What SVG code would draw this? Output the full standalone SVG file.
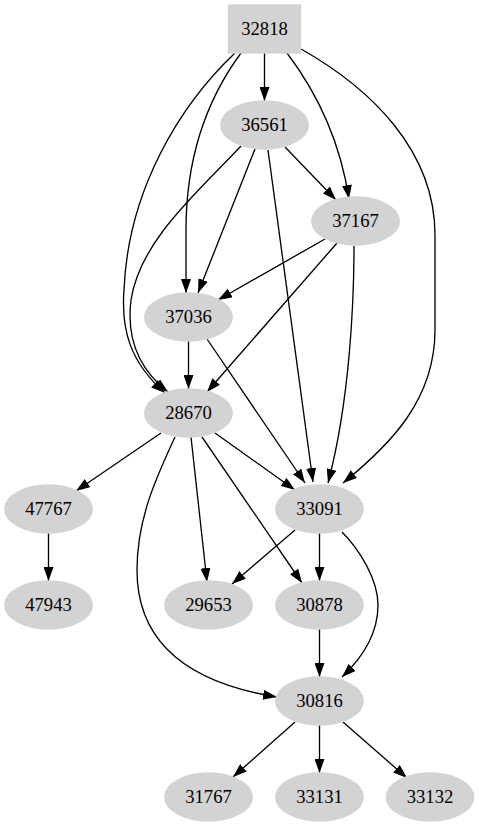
<svg xmlns="http://www.w3.org/2000/svg" width="479" height="827" viewBox="0 0 479 827">
<style>
.n{fill:#d3d3d3;stroke:#d3d3d3;stroke-width:1.33}
.t{font-family:"Liberation Serif","Times New Roman",serif;font-size:18.67px;text-anchor:middle;fill:#000}
.e{fill:none;stroke:#000;stroke-width:1.33;marker-end:url(#ah)}
</style>
<defs>
<marker id="ah" markerUnits="userSpaceOnUse" markerWidth="14" markerHeight="10" viewBox="0 0 14 10" refX="14" refY="5" orient="auto">
<path d="M0,0 L14,5 L0,10 z" fill="#000"/>
</marker>
</defs>
<rect width="479" height="827" fill="#fff"/>
<g id="edges">
<path class="e" d="M264.5,53 L264.5,101"/>
<path class="e" d="M287,53 C315,90 340,140 349,199"/>
<path class="e" d="M301,49 C370,88 435,150 435,235 L435,330 C435,400 390,445 343,483"/>
<path class="e" d="M235,53 C180,105 128,190 124,290 C121,330 130,362 165,393"/>
<path class="e" d="M241,146 C200,190 140,240 131,300 C126,340 140,370 168,392"/>
<path class="e" d="M241,53 C210,95 186,150 186,230 L186,293"/>
<path class="e" d="M255,149 L198,293"/>
<path class="e" d="M285,147 L336,200"/>
<path class="e" d="M268,150 L313,482"/>
<path class="e" d="M325,239 L218,300"/>
<path class="e" d="M337,243 L207,392"/>
<path class="e" d="M354,246 C354,300 350,400 328,483"/>
<path class="e" d="M188.5,341 L188.5,389"/>
<path class="e" d="M207,339 L305,483"/>
<path class="e" d="M161,433 L76,491"/>
<path class="e" d="M215,433 L295,490"/>
<path class="e" d="M175,437 C155,480 137,520 137,570 C137,645 190,683 277,697"/>
<path class="e" d="M191,437 L207,582"/>
<path class="e" d="M202,437 L302,583"/>
<path class="e" d="M48.5,533 L48.5,581"/>
<path class="e" d="M295,530 L232,584"/>
<path class="e" d="M319.5,533 L319.5,581"/>
<path class="e" d="M342,532 C360,550 378,580 378,605 C378,635 360,660 342,677"/>
<path class="e" d="M319.5,629 L319.5,677"/>
<path class="e" d="M295,722 L233,777"/>
<path class="e" d="M319.5,725 L319.5,773"/>
<path class="e" d="M343,722 L407,778"/>
</g>
<g id="n32818"><rect class="n" x="228.5" y="5" width="72" height="48"/><text class="t" x="264.5" y="35">32818</text></g>
<g id="n36561"><ellipse class="n" cx="264.5" cy="125" rx="43.8" ry="24"/><text class="t" x="264.5" y="131">36561</text></g>
<g id="n37167"><ellipse class="n" cx="355.5" cy="221" rx="43.8" ry="24"/><text class="t" x="355.5" y="227">37167</text></g>
<g id="n37036"><ellipse class="n" cx="188.5" cy="317" rx="43.8" ry="24"/><text class="t" x="188.5" y="323">37036</text></g>
<g id="n28670"><ellipse class="n" cx="188.5" cy="413" rx="43.8" ry="24"/><text class="t" x="188.5" y="419">28670</text></g>
<g id="n47767"><ellipse class="n" cx="48.5" cy="509" rx="43.8" ry="24"/><text class="t" x="48.5" y="515">47767</text></g>
<g id="n33091"><ellipse class="n" cx="319.5" cy="509" rx="43.8" ry="24"/><text class="t" x="319.5" y="515">33091</text></g>
<g id="n47943"><ellipse class="n" cx="48.5" cy="605" rx="43.8" ry="24"/><text class="t" x="48.5" y="611">47943</text></g>
<g id="n29653"><ellipse class="n" cx="208.5" cy="605" rx="43.8" ry="24"/><text class="t" x="208.5" y="611">29653</text></g>
<g id="n30878"><ellipse class="n" cx="319.5" cy="605" rx="43.8" ry="24"/><text class="t" x="319.5" y="611">30878</text></g>
<g id="n30816"><ellipse class="n" cx="319.5" cy="701" rx="43.8" ry="24"/><text class="t" x="319.5" y="707">30816</text></g>
<g id="n31767"><ellipse class="n" cx="208.5" cy="797" rx="43.8" ry="24"/><text class="t" x="208.5" y="803">31767</text></g>
<g id="n33131"><ellipse class="n" cx="319.5" cy="797" rx="43.8" ry="24"/><text class="t" x="319.5" y="803">33131</text></g>
<g id="n33132"><ellipse class="n" cx="430" cy="797" rx="43.8" ry="24"/><text class="t" x="430" y="803">33132</text></g>
</svg>
